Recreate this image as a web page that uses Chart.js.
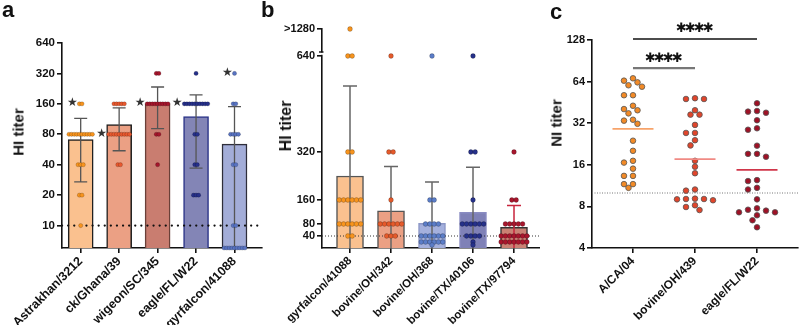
<!DOCTYPE html>
<html><head><meta charset="utf-8">
<script src="https://cdn.jsdelivr.net/npm/chart.js@4.4.1/dist/chart.umd.min.js"></script>
<style>
html,body{margin:0;padding:0;background:#fff;}
#wrap{position:relative;width:799px;height:325px;overflow:hidden;background:#fff;}
canvas{position:absolute;top:0;}
#ca{left:0;} #cb{left:270px;} #cc{left:540px;}
.let{position:absolute;font:bold 22px 'Liberation Sans',Arial,sans-serif;line-height:22px;color:#111;}
.yt{position:absolute;font-family:'Liberation Sans',Arial,sans-serif;font-weight:bold;color:#111;white-space:nowrap;transform:translate(-50%,-50%) rotate(-90deg);line-height:1;}
</style></head>
<body><div id="wrap">
<canvas id="ca" width="270" height="325"></canvas>
<canvas id="cb" width="270" height="325"></canvas>
<canvas id="cc" width="259" height="325"></canvas>
<div class="let" style="left:2px;top:-1px;">a</div>
<div class="let" style="left:261px;top:-1px;">b</div>
<div class="let" style="left:550px;top:1px;">c</div>
<div class="yt" style="left:18px;top:132px;font-size:15px;">HI titer</div>
<div class="yt" style="left:286px;top:126px;font-size:16px;">HI titer</div>
<div class="yt" style="left:556px;top:123px;font-size:15px;">NI titer</div>
</div>
<script>
// ---------------- Panel a data ----------------
const catsA = ['Astrakhan/3212','ck/Ghana/39','wigeon/SC/345','eagle/FL/W22','gyrfalcon/41088'];
const meanA = [71, 100, 160, 120, 64];
const errHiA = [115, 146, 235, 196, 150];
const errLoA = [27, 55, 91, 37, 3];
const refA = 10;
const yTicksA = [10, 20, 40, 80, 160, 320, 640];
const starA = [160, 80, 160, 160, 320];
const dotsA0 = [160,160,80,80,80,80,80,80,80,80,80,80,40,40,40,20,20,10];
const dotsA1 = [160,160,160,160,160,80,80,80,80,80,80,80,80,80,40,40];
const dotsA2 = [320,320,160,160,160,160,160,160,160,160,160,80,80,40];
const dotsA3 = [320,160,160,160,160,160,160,160,160,160,160,80,80,40,40,20,20,20];
const dotsA4 = [320,160,160,80,80,80,80,40,40,10,10,6,6,6,6,6,6,6,6,6];

// ---------------- Panel b data ----------------
const catsB = ['gyrfalcon/41088','bovine/OH/342','bovine/OH/368','bovine/TX/40106','bovine/TX/97794'];
const meanB = [240, 124, 82, 119, 69];
const errHiB = [540, 272, 220, 269, 142];
const errLoB = [0, 0, 0, 0, 0];
const refB = 40;
const yTicksB = [40, 80, 160, 320, 640, 730];
const yLabelsB = ['40','80','160','320','640','>1280'];
const dotsB0 = [730,640,640,320,320,160,160,160,160,160,160,80,80,80,80,80,80,40,40];
const dotsB1 = [640,320,320,160,80,80,80,80,80,80,40,40,40];
const dotsB2 = [640,160,160,80,80,80,80,40,40,40,40,40,40,20,20,20,20,20,20,10];
const dotsB3 = [640,320,320,160,80,80,80,80,80,80,40,40,40,40,20,10];
const dotsB4 = [320,160,160,80,80,80,80,80,40,40,40,40,40,40,40,20,20,20,20,20,20,20];

// ---------------- Panel c data ----------------
const catsC = ['A/CA/04','bovine/OH/439','eagle/FL/W22'];
const dotsC0 = [67.6,65,63.2,60.2,58.8,51,51,42.8,40.5,39.7,37.7,33.9,33.4,31.7,23.9,20.2,17.1,16.6,15,13.3,13.3,11.6,11.6,10.9];
const dotsC1 = [48.5,47.9,47.9,39.7,36.9,36.9,31.1,27.2,27.2,24.1,22.1,17.1,15.5,13.9,10.6,10.4,9.1,9.05,9.05,9.0,8.86,8.15,7.92,7.53];
const dotsC2 = [44.6,39.2,38.8,38.1,33.6,29.4,28.7,22,19.2,19.2,18.3,12.4,12.2,10.9,10.6,9.0,7.75,7.57,7.45,7.25,7.25,6.9,6.35,5.65];
const meanC = [29.1, 17.6, 14.7];
const refC = 10;
const yTicksC = [4, 8, 16, 32, 64, 128];
const sigPairs = [[0,2],[0,1]];
const sigLevel = [130, 80];
const sigText = ['****','****'];

// ---------------- styles ----------------
const FONT = "'Liberation Sans', Arial, sans-serif";
Chart.defaults.font.family = FONT;
Chart.defaults.animation = false;
Chart.defaults.events = [];
Chart.defaults.plugins.legend.display = false;
Chart.defaults.plugins.tooltip.enabled = false;

const barFillA = ['#FAC18F','#EBA084','#C97D70','#8385B6','#A3ADD8'];
const barEdgeA = ['#1e1e1e','#1e1e1e','#6a4038','#2B3488','#2e2e3a'];
const dotColA = ['#F7941E','#E8592F','#A5162C','#26308A','#5873C2'];
const barFillB = ['#FAC18F','#EBA084','#A4B0DD','#7F81B7','#CA8174'];
const barEdgeB = ['#555','#555','#8C97C6','#8A8CC2','#333'];
const dotColB = ['#F7941E','#E55A2B','#5B7DC8','#26318A','#A8162D'];
const errColB = ['#666','#666','#666','#666','#C8243C'];
const dotColC = ['#F28A26','#E0452B','#9E1226'];
const meanColC = ['#F7A36A','#F08A84','#D0364A'];

function yAxis(type, min, max, ticks, labels, width, fs){
  return { type, min, max, position:'left',
    border:{display:true,color:'#111',width:1.6},
    grid:{drawOnChartArea:false,drawTicks:true,tickLength:5,color:'#111',lineWidth:1.6},
    ticks:{font:{size:fs,weight:'bold'},color:'#111',padding:2,autoSkip:false,
      callback:(v)=>{const i=ticks.indexOf(v);return i>=0?labels[i]:'';}},
    afterBuildTicks:s=>{s.ticks=ticks.map(v=>({value:v}));},
    afterFit:s=>{s.width=width;}
  };
}
function xAxis(min, max, cats, height, fs){
  return { type:'linear', min, max, position:'bottom', offset:false,
    border:{display:true,color:'#111',width:1.6},
    grid:{offset:false,drawOnChartArea:false,drawTicks:true,tickLength:5,color:'#111',lineWidth:1.6},
    ticks:{font:{size:fs,weight:'bold'},color:'#111',padding:1,autoSkip:false,maxRotation:45,minRotation:45,
      callback:(v)=>cats[v]!==undefined?cats[v]:''},
    afterBuildTicks:s=>{s.ticks=cats.map((_,i)=>({value:i}));},
    afterFit:s=>{s.height=height;}
  };
}
function dotSets(groups, cols, r, bw, bc){
  return groups.map((vals,i)=>({type:'scatter',data:vals.map(v=>({x:i,y:v})),
    pointRadius:r,pointBorderWidth:bw,pointBorderColor:bc,pointBackgroundColor:cols[i],clip:false,order:0}));
}
function rowLayout(chart, groups, first, spacing){
  const xs=chart.scales.x; const ppu=xs.getPixelForValue(1)-xs.getPixelForValue(0);
  groups.forEach((vals,i)=>{
    const cnt={}, seen={};
    vals.forEach(v=>cnt[v]=(cnt[v]||0)+1);
    chart.data.datasets[first+i].data = vals.map(v=>{const k=(seen[v]=(seen[v]||0)+1)-1;
      return {x:i+(k-(cnt[v]-1)/2)*spacing/ppu, y:v};});
  });
  chart.update('none');
}
function swarm(chart, groups, first, step, dmin){
  const xs=chart.scales.x, ys=chart.scales.y; const ppu=xs.getPixelForValue(1)-xs.getPixelForValue(0);
  groups.forEach((vals,i)=>{
    const sorted=vals.slice().sort((a,b)=>b-a); const placed=[];
    chart.data.datasets[first+i].data = sorted.map(v=>{
      const py=ys.getPixelForValue(v); let off=0;
      for(let k=0;k<60;k++){
        const c=k===0?0:(k%2?-Math.ceil(k/2):Math.ceil(k/2))*step;
        if(placed.every(p=>Math.hypot(p.x-c,p.y-py)>=dmin)){off=c;break;}
      }
      placed.push({x:off,y:py});
      return {x:i+off/ppu,y:v};
    });
  });
  chart.update('none');
}
function refLine(ctx, ca, y, color, lw, dash, cap){
  ctx.save(); ctx.strokeStyle=color; ctx.lineWidth=lw; ctx.setLineDash(dash); ctx.lineCap=cap;
  ctx.beginPath(); ctx.moveTo(ca.left,y); ctx.lineTo(ca.right,y); ctx.stroke(); ctx.restore();
}
function errBar(ctx, x, yt, yb, half, color, lw){
  ctx.save(); ctx.strokeStyle=color; ctx.lineWidth=lw;
  ctx.beginPath(); ctx.moveTo(x,yt); ctx.lineTo(x,yb);
  ctx.moveTo(x-half,yt); ctx.lineTo(x+half,yt);
  ctx.moveTo(x-half,yb); ctx.lineTo(x+half,yb); ctx.stroke(); ctx.restore();
}

// ---------------- Panel a ----------------
const groupsA=[dotsA0,dotsA1,dotsA2,dotsA3,dotsA4];
const SPA=2.6;
const plugA={id:'pA',
  afterDatasetDraw(chart,args){
    if(args.index!==0) return;
    const ctx=chart.ctx, xs=chart.scales.x, ys=chart.scales.y, ca=chart.chartArea;
    ctx.save(); ctx.beginPath(); ctx.rect(ca.left,ca.top-20,ca.right-ca.left+10,ca.bottom-ca.top+20); ctx.clip();
    catsA.forEach((c,i)=>errBar(ctx,xs.getPixelForValue(i),ys.getPixelForValue(errHiA[i]),ys.getPixelForValue(errLoA[i]),6.5,'#555',1.3));
    ctx.restore();
    refLine(ctx,{left:ca.left,right:ca.right},ys.getPixelForValue(refA),'#111',2.2,[0.1,6],'round');
  },
  afterDatasetsDraw(chart){
    const ctx=chart.ctx, xs=chart.scales.x, ys=chart.scales.y;
    ctx.save(); ctx.fillStyle='#333'; ctx.font="12px 'DejaVu Sans'"; ctx.textAlign='center'; ctx.textBaseline='middle';
    catsA.forEach((c,i)=>{
      const n=groupsA[i].filter(v=>v===starA[i]).length;
      const half=(n-1)/2*SPA+2.1;
      ctx.fillText('★',xs.getPixelForValue(i)-half-5,ys.getPixelForValue(starA[i])-0.5);
    });
    ctx.restore();
  }
};
const chartA=new Chart(document.getElementById('ca'),{
  type:'bar',
  data:{datasets:[
    {type:'bar',data:meanA.map((v,i)=>({x:i,y:v})),backgroundColor:barFillA,borderColor:barEdgeA,borderWidth:1.5,barThickness:25,order:10},
    ...dotSets(groupsA,dotColA,2.1,0.5,'rgba(0,0,0,0.35)')
  ]},
  options:{responsive:false,maintainAspectRatio:false,
    layout:{autoPadding:false,padding:{top:43,right:8,left:0,bottom:0}},
    scales:{x:xAxis(-0.486,4.715,catsA,77,12.5),y:yAxis('logarithmic',6,640,yTicksA,yTicksA.map(String),62,11.5)}},
  plugins:[plugA]
});
rowLayout(chartA,groupsA,1,SPA);

// ---------------- Panel b ----------------
const groupsB=[dotsB0,dotsB1,dotsB2,dotsB3,dotsB4];
const plugB={id:'pB',
  afterDatasetDraw(chart,args){
    if(args.index!==0) return;
    const ctx=chart.ctx, xs=chart.scales.x, ys=chart.scales.y, ca=chart.chartArea;
    ctx.save(); ctx.beginPath(); ctx.rect(ca.left,ca.top-20,ca.right-ca.left,ca.bottom-ca.top+20); ctx.clip();
    catsB.forEach((c,i)=>errBar(ctx,xs.getPixelForValue(i),ys.getPixelForValue(errHiB[i]),ys.getPixelForValue(errLoB[i])+3,7,errColB[i],1.5));
    ctx.restore();
    refLine(ctx,ca,ys.getPixelForValue(refB),'#333',1,[1,2],'butt');
  },
  afterDraw(chart){
    const ctx=chart.ctx, ys=chart.scales.y, ca=chart.chartArea;
    const y6=ys.getPixelForValue(640);
    ctx.save(); ctx.fillStyle='#fff'; ctx.fillRect(ca.left-2,y6-3.5,4,2.3);
    ctx.strokeStyle='#111'; ctx.lineWidth=1.4; ctx.beginPath(); ctx.moveTo(ca.left-3,y6-4); ctx.lineTo(ca.left+1.5,y6-4); ctx.stroke();
    ctx.restore();
  }
};
const chartB=new Chart(document.getElementById('cb'),{
  type:'bar',
  data:{datasets:[
    {type:'bar',data:meanB.map((v,i)=>({x:i,y:v})),backgroundColor:barFillB,borderColor:barEdgeB,borderWidth:1.5,barThickness:27,order:10},
    ...dotSets(groupsB,dotColB,2.4,0.6,'rgba(0,0,0,0.35)')
  ]},
  options:{responsive:false,maintainAspectRatio:false,
    layout:{autoPadding:false,padding:{top:29,right:0,left:0,bottom:0}},
    scales:{x:xAxis(-0.683,4.634,catsB,77,11.5),y:yAxis('linear',0,730,yTicksB,yLabelsB,52,11)}},
  plugins:[plugB]
});
rowLayout(chartB,groupsB,1,4.3);

// ---------------- Panel c ----------------
const groupsC=[dotsC0,dotsC1,dotsC2];
const plugC={id:'pC',
  beforeDatasetsDraw(chart){
    const ys=chart.scales.y;
    refLine(chart.ctx,chart.chartArea,ys.getPixelForValue(refC),'#777',1,[1,1.5],'butt');
  },
  afterDatasetsDraw(chart){
    const ctx=chart.ctx, xs=chart.scales.x, ys=chart.scales.y;
    ctx.save();
    meanC.forEach((m,i)=>{
      const x=xs.getPixelForValue(i), y=ys.getPixelForValue(m);
      ctx.strokeStyle=meanColC[i]; ctx.lineWidth=1.6; ctx.beginPath(); ctx.moveTo(x-20.5,y); ctx.lineTo(x+20.5,y); ctx.stroke();
    });
    sigPairs.forEach((p,k)=>{
      const x1=xs.getPixelForValue(p[0]), x2=xs.getPixelForValue(p[1]), y=ys.getPixelForValue(sigLevel[k]);
      ctx.strokeStyle=k===0?'#111':'#777'; ctx.lineWidth=k===0?1.5:2.2;
      ctx.beginPath(); ctx.moveTo(x1,y); ctx.lineTo(x2,y); ctx.stroke();
      ctx.fillStyle='#111'; ctx.font="bold 13px 'DejaVu Sans'"; ctx.textAlign='center'; ctx.textBaseline='middle';
      const cx=(x1+x2)/2, chars=sigText[k].split('');
      chars.forEach((ch,j)=>ctx.fillText('✱',cx+(j-(chars.length-1)/2)*9,y-10));
    });
    ctx.restore();
  }
};
const chartC=new Chart(document.getElementById('cc'),{
  type:'scatter',
  data:{datasets:dotSets(groupsC,dotColC,2.8,0.8,'#555')},
  options:{responsive:false,maintainAspectRatio:false,
    layout:{autoPadding:false,padding:{top:40,right:1,left:0,bottom:0}},
    scales:{x:xAxis(-0.661,2.661,catsC,77,12),y:yAxis('logarithmic',4,128,yTicksC,yTicksC.map(String),52,11)}},
  plugins:[plugC]
});
swarm(chartC,groupsC,0,4.5,5.8);
</script>
</body></html>
